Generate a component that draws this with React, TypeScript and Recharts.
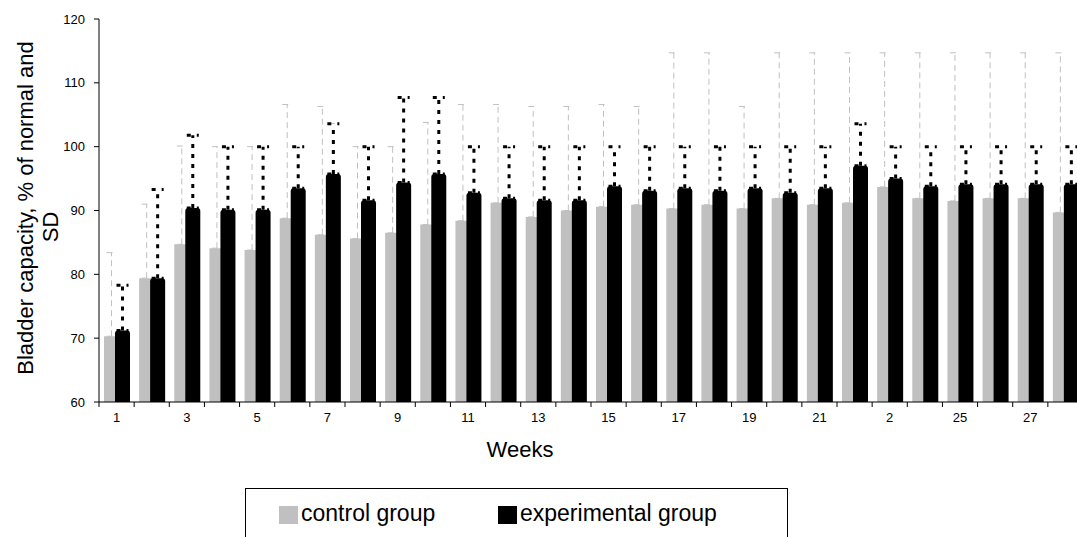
import React from 'react'
import { BarChart, Bar, XAxis, YAxis, ErrorBar, Label } from 'recharts'

// weeks 1..28, tick labels as printed on the original (23 shows as "2")
const weeks = Array.from({ length: 28 }, (_, i) => i + 1)
const weekLabels = ['1', '', '3', '', '5', '', '7', '', '9', '', '11', '', '13', '', '15', '', '17', '', '19', '', '21', '', '2', '', '25', '', '27', '']

const controlMean = [70.3, 79.4, 84.7, 84.1, 83.8, 88.8, 86.2, 85.6, 86.5, 87.8, 88.4, 91.2, 89.0, 90.0, 90.6, 90.9, 90.3, 90.9, 90.3, 91.9, 90.9, 91.2, 93.7, 91.9, 91.5, 91.9, 91.9, 89.7]
const controlSd = [13.1, 11.6, 15.4, 15.9, 16.2, 17.8, 20.1, 14.4, 13.5, 16.0, 18.2, 15.4, 17.3, 16.3, 16.0, 15.4, 24.4, 23.8, 16.0, 22.8, 23.8, 23.5, 21.0, 22.8, 23.2, 22.8, 22.8, 25.0]
const expMean = [71.2, 79.4, 90.4, 90.1, 90.1, 93.5, 95.7, 91.6, 94.4, 95.7, 92.8, 91.9, 91.6, 91.6, 93.8, 93.1, 93.5, 93.1, 93.5, 92.8, 93.5, 97.0, 95.0, 93.8, 94.1, 94.1, 94.1, 94.1]
const expSd = [7.1, 13.9, 11.4, 9.9, 9.9, 6.5, 7.9, 8.4, 13.3, 12.0, 7.2, 8.1, 8.4, 8.4, 6.2, 6.9, 6.5, 6.9, 6.5, 7.2, 6.5, 6.6, 5.0, 6.2, 5.9, 5.9, 5.9, 5.9]

const yTicks = [60, 70, 80, 90, 100, 110, 120]

const data = weeks.map((w, i) => ({
  week: w,
  control: controlMean[i],
  controlErr: [0, controlSd[i]],
  experimental: expMean[i],
  experimentalErr: [0, expSd[i]],
}))

const FONT = '"Liberation Sans", Arial, sans-serif'

const WeekTick = (props: any) => {
  const { x, y, payload } = props
  const half = payload.offset || 17.5
  const label = weekLabels[payload.value - 1]
  return (
    <g>
      <line x1={x - half} x2={x - half} y1={y} y2={y + 5} stroke="#000" />
      {label ? (
        <text x={x} y={y + 11} dy="0.71em" textAnchor="middle" fontSize={13} fontFamily={FONT} fill="#000">
          {label}
        </text>
      ) : null}
    </g>
  )
}

const YTitle = () => (
  <g fontFamily={FONT} fontSize={22} fill="#000">
    <text x={25} y={208} transform="rotate(-90 25 208)" textAnchor="middle" dominantBaseline="central">
      Bladder capacity, % of normal and
    </text>
    <text x={50} y={227} transform="rotate(-90 50 227)" textAnchor="middle" dominantBaseline="central">
      SD
    </text>
  </g>
)

export default function App() {
  return (
    <div style={{ position: 'absolute', left: 0, top: 0, width: 1077, height: 537, overflow: 'hidden', background: '#fff' }}>
      <BarChart width={1090} height={537} data={data} margin={{ top: 19, right: 7, left: 0, bottom: 105 }} barSize={15} barGap={-4}>
        <XAxis
          dataKey="week"
          height={30}
          interval={0}
          tickLine={false}
          tickSize={0}
          tickMargin={0}
          tick={<WeekTick />}
          axisLine={{ stroke: '#000' }}
        >
          <Label
            content={() => (
              <text x={520} y={449} textAnchor="middle" dominantBaseline="central" fontSize={22} fontFamily={FONT} fill="#000">
                Weeks
              </text>
            )}
          />
        </XAxis>
        <YAxis
          width={99}
          domain={[60, 120]}
          ticks={yTicks}
          interval={0}
          tickSize={5}
          tickMargin={9}
          tick={{ fill: '#000', fontSize: 13, fontFamily: FONT }}
          tickLine={{ stroke: '#000' }}
          axisLine={{ stroke: '#000' }}
        >
          <Label content={() => <YTitle />} />
        </YAxis>
        <Bar dataKey="control" fill="#c0c0c0" isAnimationActive={false}>
          <ErrorBar dataKey="controlErr" width={5} stroke="#c0c0c0" strokeWidth={1} strokeDasharray="6 4" />
        </Bar>
        <Bar dataKey="experimental" fill="#000" radius={[3, 3, 0, 0]} isAnimationActive={false}>
          <ErrorBar dataKey="experimentalErr" width={6} stroke="#000" strokeWidth={3} strokeDasharray="4 6" />
        </Bar>
      </BarChart>
      <div
        style={{
          position: 'absolute',
          left: 245,
          top: 488,
          width: 543,
          height: 60,
          border: '1px solid #000',
          boxSizing: 'border-box',
          fontFamily: FONT,
          fontSize: 23,
          color: '#000',
        }}
      >
        <div style={{ position: 'absolute', left: 33, top: 17, width: 19, height: 18, background: '#c0c0c0' }} />
        <div style={{ position: 'absolute', left: 55, top: 10, lineHeight: '28px' }}>control group</div>
        <div style={{ position: 'absolute', left: 252, top: 17, width: 19, height: 18, background: '#000' }} />
        <div style={{ position: 'absolute', left: 274, top: 10, lineHeight: '28px' }}>experimental group</div>
      </div>
    </div>
  )
}
